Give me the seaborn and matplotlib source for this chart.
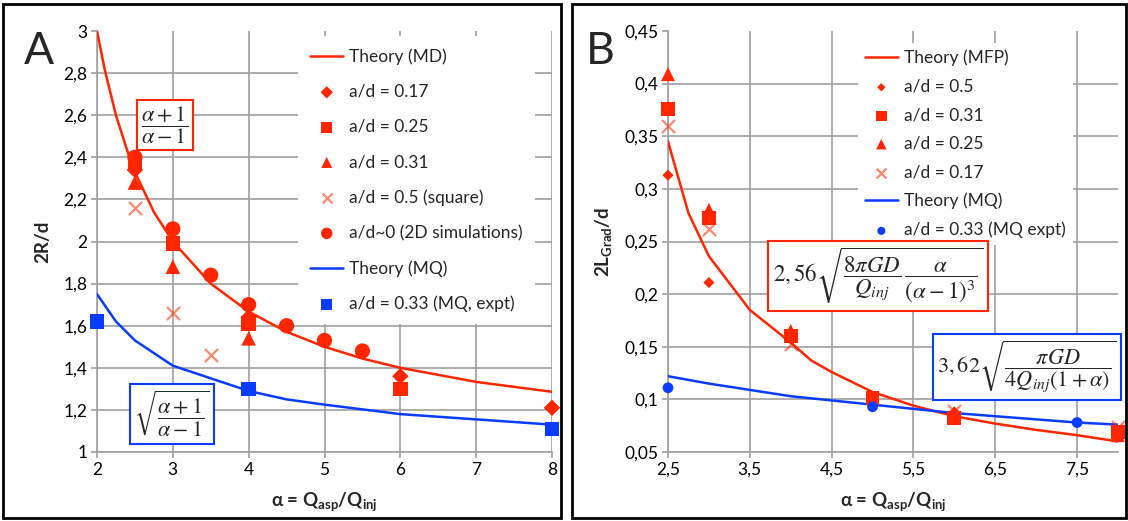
import matplotlib
matplotlib.use("Agg")
import matplotlib.pyplot as plt
from matplotlib.patches import Rectangle
from matplotlib.ticker import FuncFormatter, FixedLocator
import seaborn as sns

# ---------------- data: panel A ----------------
md_alpha = [2, 2.1, 2.25, 2.4, 2.5, 2.75, 3, 3.5, 4, 4.5, 5, 5.5, 6, 7, 8]
md_r = [3.0, 2.82, 2.6, 2.43, 2.33, 2.14, 2.0, 1.8, 1.667, 1.571, 1.5, 1.444, 1.4, 1.333, 1.286]
mq_alpha = [2, 2.25, 2.5, 3, 3.5, 4, 4.5, 5, 6, 7, 8]
mq_r = [1.75, 1.62, 1.53, 1.41, 1.35, 1.29, 1.25, 1.225, 1.18, 1.155, 1.13]

a017_alpha = [2.5, 4, 6, 8]
a017_r = [2.34, 1.64, 1.36, 1.21]
a025_alpha = [2.5, 3, 4, 6]
a025_r = [2.37, 1.99, 1.61, 1.30]
a031_alpha = [2.5, 3, 4]
a031_r = [2.28, 1.88, 1.54]
a05_alpha = [2.5, 3, 3.5]
a05_r = [2.16, 1.66, 1.46]
a0_alpha = [2.5, 3, 3.5, 4, 4.5, 5, 5.5]
a0_r = [2.40, 2.06, 1.84, 1.70, 1.60, 1.53, 1.48]
mqx_alpha = [2, 4, 8]
mqx_r = [1.62, 1.30, 1.11]

# ---------------- data: panel B ----------------
mfp_alpha = [2.5, 2.75, 3, 3.5, 4, 4.25, 4.5, 5, 5.5, 6, 6.5, 7, 7.5, 8]
mfp_l = [0.345, 0.277, 0.236, 0.185, 0.154, 0.137, 0.126, 0.107, 0.094, 0.084, 0.077, 0.071, 0.066, 0.060]
mqb_alpha = [2.5, 3, 3.5, 4, 4.5, 5, 5.5, 6, 6.5, 7, 7.5, 8]
mqb_l = [0.122, 0.115, 0.109, 0.103, 0.099, 0.095, 0.091, 0.087, 0.084, 0.081, 0.078, 0.076]

b05_alpha = [2.5, 3, 4, 6, 8]
b05_l = [0.313, 0.211, 0.163, 0.088, 0.070]
b031_alpha = [2.5, 3, 4, 5, 6, 8]
b031_l = [0.376, 0.272, 0.160, 0.101, 0.082, 0.069]
b025_alpha = [2.5, 3, 4, 6, 8]
b025_l = [0.409, 0.280, 0.165, 0.087, 0.066]
b017_alpha = [2.5, 3, 4, 6, 8]
b017_l = [0.360, 0.262, 0.153, 0.089, 0.074]
bmq_alpha = [2.5, 5, 7.5]
bmq_l = [0.111, 0.093, 0.078]

# ---------------- style ----------------
sns.set_theme(style="white")
plt.rcParams["font.family"] = ["Lato", "DejaVu Sans"]
plt.rcParams["mathtext.fontset"] = "custom"
plt.rcParams["mathtext.rm"] = "Lato"
plt.rcParams["mathtext.bf"] = "Lato:bold"
plt.rcParams["mathtext.it"] = "Lato:italic"

RED = "#FF2600"
BLUE = "#0A3CFF"
GRID = "#A0A0A0"
FS = 12.5
LFS = 13.5

W, H = 1128, 521
fig = plt.figure(figsize=(W / 100, H / 100), dpi=100)


def px_axes(x0, x1, y0, y1):
    return fig.add_axes([x0 / W, 1 - y1 / H, (x1 - x0) / W, (y1 - y0) / H])


axA = px_axes(97, 552, 31, 452)
axB = px_axes(668, 1118, 31, 452)

comma = FuncFormatter(lambda v, p: ("%g" % v).replace(".", ","))


def style_axes(ax):
    for s in ["top", "right"]:
        ax.spines[s].set_visible(False)
    for s in ["left", "bottom"]:
        ax.spines[s].set_color(GRID)
        ax.spines[s].set_linewidth(1.2)
    ax.grid(True, color=GRID, linewidth=1.2)
    ax.set_axisbelow(True)
    ax.tick_params(axis="both", length=4, width=1.2, color=GRID, direction="out",
                   labelsize=FS, labelcolor="black", pad=3, left=True, bottom=True)
    ax.xaxis.set_major_formatter(comma)
    ax.yaxis.set_major_formatter(comma)


def white_legend(leg):
    fr = leg.get_frame()
    fr.set_facecolor("white")
    fr.set_edgecolor("none")
    fr.set_alpha(1)


# ---------------- panel A ----------------
ax = axA
sns.lineplot(x=md_alpha, y=md_r, color=RED, lw=1.8, ax=ax, label="Theory (MD)", zorder=3)
sns.scatterplot(x=a017_alpha, y=a017_r, marker="D", s=70, color=RED, edgecolor="none", ax=ax,
                label="a/d = 0.17", zorder=4)
sns.scatterplot(x=a025_alpha, y=a025_r, marker="s", s=110, color=RED, edgecolor="none", ax=ax,
                label="a/d = 0.25", zorder=4)
sns.scatterplot(x=a031_alpha, y=a031_r, marker="^", s=110, color=RED, edgecolor="none", ax=ax,
                label="a/d = 0.31", zorder=4)
sns.scatterplot(x=a05_alpha, y=a05_r, marker="x", s=90, color=RED, alpha=0.55, linewidth=1.6, ax=ax,
                label="a/d = 0.5 (square)", zorder=4)
sns.scatterplot(x=a0_alpha, y=a0_r, marker="o", s=120, color=RED, edgecolor="none", ax=ax,
                label="a/d~0 (2D simulations)", zorder=4)
sns.lineplot(x=mq_alpha, y=mq_r, color=BLUE, lw=1.8, ax=ax, label="Theory (MQ)", zorder=3)
sns.scatterplot(x=mqx_alpha, y=mqx_r, marker="s", s=110, color=BLUE, edgecolor="none", ax=ax,
                label="a/d = 0.33 (MQ, expt)", zorder=4)
ax.set_xlim(2, 8)
ax.set_ylim(1, 3)
ax.xaxis.set_major_locator(FixedLocator([2, 3, 4, 5, 6, 7, 8]))
ax.yaxis.set_major_locator(FixedLocator([1, 1.2, 1.4, 1.6, 1.8, 2, 2.2, 2.4, 2.6, 2.8, 3]))
style_axes(ax)
ax.yaxis.get_gridlines()[-1].set_visible(False)
for c in ax.collections:
    c.set_clip_on(False)
ax.set_xlabel("α = Q$_{\\mathbf{asp}}$/Q$_{\\mathbf{inj}}$", fontsize=LFS, fontweight="bold", labelpad=9)
ax.set_ylabel("2R/d", fontsize=LFS, fontweight="bold", labelpad=9)
leg = ax.legend(loc="upper left", bbox_to_anchor=(0.442, 0.988), borderaxespad=0, frameon=True,
                fontsize=FS, labelspacing=1.1, handlelength=1.9, handletextpad=0.35,
                borderpad=0.7, markerscale=0.75)
white_legend(leg)

# ---------------- panel B ----------------
ax = axB
sns.lineplot(x=mfp_alpha, y=mfp_l, color=RED, lw=1.8, ax=ax, label="Theory (MFP)", zorder=3)
sns.scatterplot(x=b05_alpha, y=b05_l, marker="D", s=32, color=RED, edgecolor="none", ax=ax,
                label="a/d = 0.5", zorder=4)
sns.scatterplot(x=b031_alpha, y=b031_l, marker="s", s=100, color=RED, edgecolor="none", ax=ax,
                label="a/d = 0.31", zorder=4)
sns.scatterplot(x=b025_alpha, y=b025_l, marker="^", s=100, color=RED, edgecolor="none", ax=ax,
                label="a/d = 0.25", zorder=4)
sns.scatterplot(x=b017_alpha, y=b017_l, marker="x", s=90, color=RED, alpha=0.55, linewidth=1.6, ax=ax,
                label="a/d = 0.17", zorder=4)
sns.lineplot(x=mqb_alpha, y=mqb_l, color=BLUE, lw=1.8, ax=ax, label="Theory (MQ)", zorder=3)
sns.scatterplot(x=bmq_alpha, y=bmq_l, marker="o", s=60, color=BLUE, edgecolor="none", ax=ax,
                label="a/d = 0.33 (MQ expt)", zorder=4)
ax.set_xlim(2.5, 8)
ax.set_ylim(0.05, 0.45)
ax.xaxis.set_major_locator(FixedLocator([2.5, 3.5, 4.5, 5.5, 6.5, 7.5]))
ax.yaxis.set_major_locator(FixedLocator([0.05, 0.1, 0.15, 0.2, 0.25, 0.3, 0.35, 0.4, 0.45]))
style_axes(ax)
ax.yaxis.get_gridlines()[-1].set_visible(False)
for c in ax.collections:
    c.set_clip_on(False)
ax.set_xlabel("α = Q$_{\\mathbf{asp}}$/Q$_{\\mathbf{inj}}$", fontsize=LFS, fontweight="bold", labelpad=9)
ax.set_ylabel("2L$_{\\mathbf{Grad}}$/d", fontsize=LFS, fontweight="bold", labelpad=7)
leg = ax.legend(loc="upper left", bbox_to_anchor=(0.422, 0.972), borderaxespad=0, frameon=True,
                fontsize=FS, labelspacing=0.72, handlelength=1.9, handletextpad=0.35,
                borderpad=0.4, markerscale=0.75)
white_legend(leg)

# ---------------- equations ----------------
def eq(x, y, s, color, size, pad=0.2):
    fig.text(x / W, 1 - y / H, s, ha="center", va="center", fontsize=size, math_fontfamily="stix",
             bbox=dict(boxstyle="square,pad=%g" % pad, fc="white", ec=color, lw=1.5), zorder=10)


eq(165, 125, r"$\dfrac{\alpha+1}{\alpha-1}$", RED, 16)
eq(172, 414, r"$\sqrt{\dfrac{\alpha+1}{\alpha-1}}$", BLUE, 16)
eq(878, 276, r"$2,56\sqrt{\dfrac{8\pi GD}{Q_{inj}}\,\dfrac{\alpha}{(\alpha-1)^3}}$", RED, 16.5)
eq(1027, 367, r"$3,62\sqrt{\dfrac{\pi GD}{4Q_{inj}(1+\alpha)}}$", BLUE, 16)

# ---------------- panel letters & frames ----------------
fig.text(24 / W, 1 - 52 / H, "A", fontsize=32, ha="left", va="center")
fig.text(586 / W, 1 - 52 / H, "B", fontsize=32, ha="left", va="center")
for x0, x1 in [(3, 561), (572, 1126)]:
    fig.patches.append(Rectangle((x0 / W, 3 / H), (x1 - x0) / W, (H - 7) / H, transform=fig.transFigure,
                                 fill=False, ec="black", lw=2))

fig.savefig("out.png", dpi=100)
